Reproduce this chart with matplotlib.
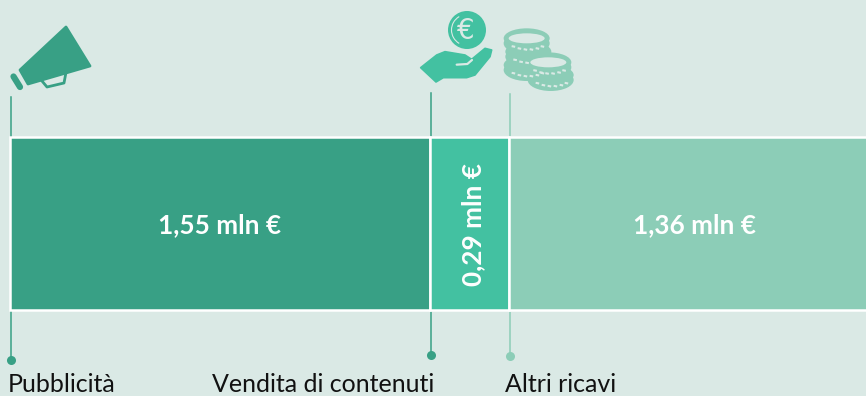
import matplotlib
matplotlib.use('Agg')
import matplotlib.pyplot as plt
from matplotlib.patches import Polygon, Ellipse, Circle, Arc

# Values
categories = ['Pubblicità', 'Vendita di contenuti', 'Altri ricavi']
values = [1.55, 0.29, 1.36]
value_labels = ['1,55 mln €', '0,29 mln €', '1,36 mln €']
colors = ['#38A085', '#43C1A1', '#8CCDB7']

BG = '#DAE9E5'
PX_PER_UNIT = 271.0
X0 = 10.0

plt.rcParams['font.family'] = ['Lato', 'DejaVu Sans']

fig = plt.figure(figsize=(8.66, 3.96), dpi=100, facecolor=BG)
# y in pixels from the top, x in millions of euro
ax = fig.add_axes([0, 0, 1, 1], facecolor=BG)
ax.set_xlim(-X0 / PX_PER_UNIT, (866 - X0) / PX_PER_UNIT)
ax.set_ylim(396, 0)
ax.axis('off')

# Leader lines go under the bars
line_tops = [97, 93, 94]
line_ends = [360, 355, 356]
label_x = [8, 212, 505]
label_y = [391.5, 392, 392]
dot_colors = [colors[0], colors[0], colors[2]]
left = 0
lefts = []
for v in values:
    lefts.append(left)
    left += v

for i, start in enumerate(lefts):
    x = start + (0.004 if i else 0.003)
    ax.plot([x, x], [line_tops[i], line_ends[i]], color=dot_colors[i], lw=1.1, zorder=1)
    ax.plot([x], [line_ends[i]], 'o', color=dot_colors[i], ms=6.5, mew=0, zorder=4)
    ax.text(start + (label_x[i] - X0 - start * PX_PER_UNIT) / PX_PER_UNIT, label_y[i], categories[i],
            fontsize=18, color='#111111', ha='left', va='baseline', zorder=5)

bars = ax.barh([223] * 3, values, left=lefts, height=173, color=colors,
               edgecolor='white', linewidth=1.8, zorder=2)
for i, bar in enumerate(bars):
    cx = bar.get_x() + bar.get_width() / 2
    if i == 1:
        cx += 4 / PX_PER_UNIT
    if i == 2:
        cx = lefts[2] + (694 - 508) / PX_PER_UNIT
    ax.text(cx, 225, value_labels[i], color='white', fontsize=18.8, fontweight='bold',
            ha='center', va='center', rotation=90 if i == 1 else 0, zorder=5)

# Icons, drawn in plain pixel coordinates
ic = fig.add_axes([0, 0, 1, 1], facecolor='none')
ic.set_xlim(0, 866)
ic.set_ylim(396, 0)
ic.axis('off')

# megaphone
ic.add_patch(Polygon([(66, 27), (90, 66), (28, 84), (20, 70)], closed=True, fc=colors[0],
                     ec=colors[0], lw=2, joinstyle='round'))
ic.plot([13.5, 20], [76.5, 87], color=colors[0], lw=4.5, solid_capstyle='round')
ic.plot([42, 47, 64, 65.5], [81, 87, 83, 75], color=colors[0], lw=2, solid_joinstyle='round')

# hand with euro coin
hz = lambda pts: [(410 + a / 3, b / 3) for a, b in pts]
ic.add_patch(Circle((467, 30), 19, fc=colors[1], ec='none'))
ic.add_patch(Arc((467, 30), 31, 31, theta1=120, theta2=240, color=BG, lw=0.8))
ic.text(466, 31, '€', color=BG, fontsize=20, ha='center', va='center', family='DejaVu Sans')
ic.add_patch(Polygon(hz([(32, 203), (80, 165), (105, 155), (165, 165), (185, 178), (225, 145),
                         (245, 150), (240, 170), (195, 225), (170, 233), (100, 233), (78, 246)]),
                     closed=True, fc=colors[1], ec=colors[1], lw=1.2, joinstyle='round'))
ic.plot(*zip(*hz([(140, 194), (172, 192), (186, 180)])), color=BG, lw=1.6, solid_capstyle='round')


def coin(cx, cy, rim=False):
    # one coin seen from above: body with small notches, ring on top when rim is set
    x, y = 410 + cx / 3, cy / 3
    ic.add_patch(Ellipse((x, y + 5), 46, 22, fc=colors[2], ec='none'))
    ic.add_patch(Ellipse((x, y), 46, 20, fc=colors[2], ec='none'))
    for dx, dy in [(-14, 8), (-8, 10), (-2, 11), (4, 11), (10, 10), (15, 8)]:
        ic.plot([x + dx, x + dx + 1.5], [y + dy, y + dy + 0.3], color=BG, lw=1.5)
    if rim:
        ic.add_patch(Ellipse((x, y), 36, 10, fc=BG, ec='none'))


coin(350, 195)
coin(355, 155)
coin(350, 115, rim=True)
coin(422, 225)
coin(415, 187, rim=True)

fig.savefig('out.png', dpi=100, facecolor=BG)
